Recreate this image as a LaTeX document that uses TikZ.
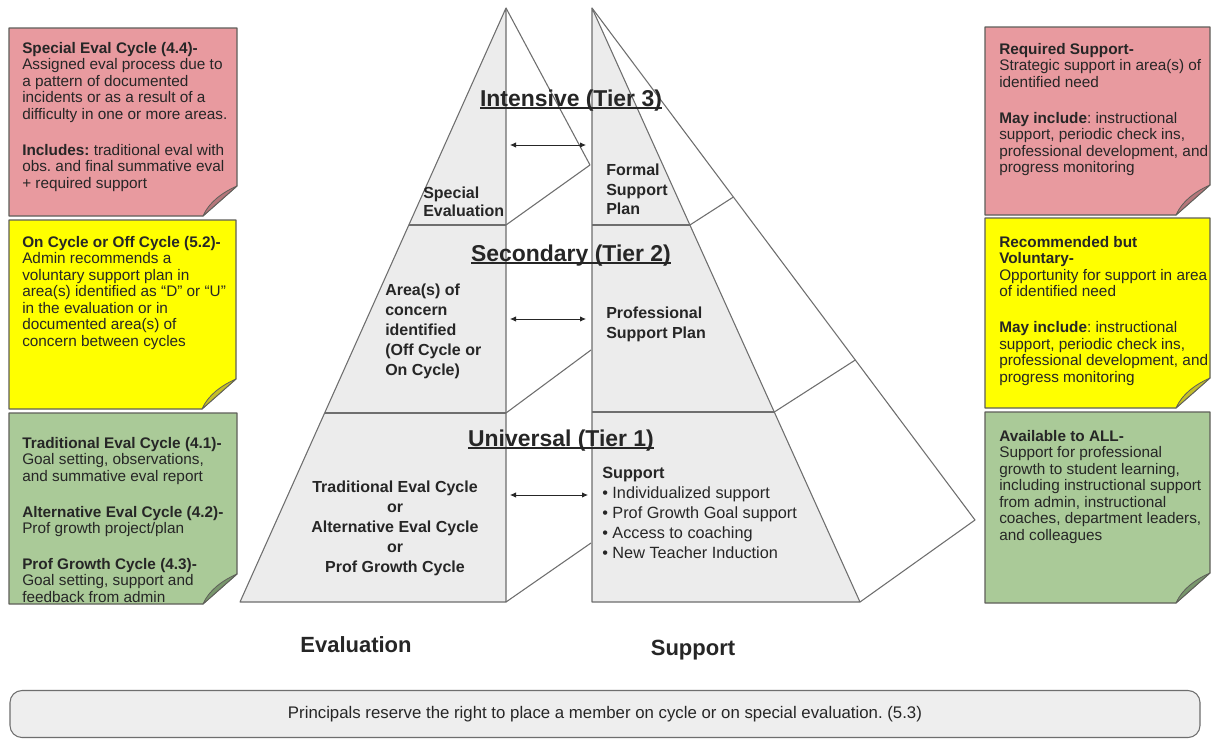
\documentclass[tikz,border=0pt]{standalone}
\usepackage{fontspec}
\setmainfont{Liberation Sans}
\frenchspacing
\usetikzlibrary{arrows.meta}
\definecolor{linegray}{RGB}{110,110,110}
\definecolor{pyrfill}{RGB}{236,236,236}
\definecolor{notered}{RGB}{232,154,159}
\definecolor{foldred}{RGB}{180,118,122}
\definecolor{noteyellow}{RGB}{255,255,0}
\definecolor{foldyellow}{RGB}{196,190,40}
\definecolor{notegreen}{RGB}{170,202,152}
\definecolor{foldgreen}{RGB}{120,150,108}
\definecolor{noteborder}{RGB}{95,95,90}
\definecolor{boxfill}{RGB}{238,238,238}
\newcommand{\myul}[1]{\setbox0\hbox{#1}\rlap{\rule[-2.2pt]{\wd0}{1.1pt}}\box0}
\tikzset{
  pyrline/.style={draw=linegray, line width=0.8pt, line join=round},
  notetext/.style={font=\fontsize{11.5}{12.35}\selectfont\frenchspacing, align=left, anchor=north west, inner sep=0pt, text=black!85},
  pyrtext/.style={font=\bfseries\fontsize{12}{15}\selectfont, align=left, anchor=north west, inner sep=0pt, text=black!85},
  tierlabel/.style={font=\bfseries\fontsize{17.2}{20}\selectfont, anchor=base, inner sep=0pt, text=black!85},
  biglabel/.style={font=\bfseries\fontsize{16.5}{19}\selectfont, inner sep=0pt, text=black!85},
  dblarrow/.style={{Latex[length=4.5pt,width=4pt]}-{Latex[length=4.5pt,width=4pt]}, line width=0.6pt, draw=black!85},
  notebody/.style={draw=noteborder, line width=0.8pt, line join=round},
}
\newcommand{\stickynote}[5]{% x1 y1 x2 y2 colour
  \fill[#5] (#1,#2) -- (#3,#2) -- (#3,#4-30) -- (#3-34,#4) -- (#1,#4) -- cycle;
  \draw[notebody] (#1,#2) -- (#3,#2) -- (#3,#4-30) -- (#3-34,#4) -- (#1,#4) -- cycle;
}
\newcommand{\notefold}[3]{% x2 y2 colour
  \filldraw[fill=#3, draw=noteborder, line width=0.6pt, line join=round] (#1-34,#2) .. controls (#1-28,#2-14) and (#1-14,#2-24) .. (#1,#2-30) -- cycle;
}
\begin{document}
\begin{tikzpicture}[x=0.75pt,y=-0.75pt]
\useasboundingbox (0,0) rectangle (1211,743);
\fill[white] (0,0) rectangle (1211,743);

% ---------- Left pyramid (Evaluation) ----------
\coordinate (LA) at (506,8);
\coordinate (LB) at (240,602);
\coordinate (LC) at (506,602);
\fill[pyrfill] (LA) -- (LB) -- (LC) -- cycle;
\draw[pyrline] (LA) -- (LB) -- (LC) -- cycle;
\draw[pyrline] (408.8,225) -- (506,225);
\draw[pyrline] (324.6,413) -- (506,413);
% side face of left pyramid
\draw[pyrline] (LA) -- (590,165) -- (506,225);
\draw[pyrline] (506,413) -- (591,350);
\draw[pyrline] (506,602) -- (591,543);

% ---------- Right pyramid (Support) ----------
\coordinate (RA) at (592,8);
\coordinate (RB) at (860,602);
\coordinate (RC) at (592,602);
\coordinate (RE) at (975,520);
\fill[pyrfill] (RA) -- (RB) -- (RC) -- cycle;
\draw[pyrline] (RA) -- (RB) -- (RC) -- cycle;
\draw[pyrline] (592,225) -- (689.9,225);
\draw[pyrline] (592,412) -- (774.3,412);
% side face of right pyramid
\draw[pyrline] (RA) -- (RE) -- (RB);
\draw[pyrline] (689.9,225) -- (733.4,197);
\draw[pyrline] (774.3,412) -- (855.3,360);

% ---------- Tier labels ----------
\node[tierlabel] (t3) at (571,106) {\myul{Intensive (Tier 3)}};
\node[tierlabel] (t2) at (571,261) {\myul{Secondary (Tier 2)}};
\node[tierlabel] (t1) at (561,446) {\myul{Universal (Tier 1)}};

% ---------- Pyramid texts ----------
\node[pyrtext, font=\bfseries\fontsize{12}{13.5}\selectfont] (special) at (423,187) {Special\\Evaluation};
\node[pyrtext] (area) at (385,284) {Area(s) of\\concern\\identified\\(Off Cycle or\\On Cycle)};
\node[pyrtext, align=center, anchor=north] (trad) at (395,481) {Traditional Eval Cycle\\or\\Alternative Eval Cycle\\or\\Prof Growth Cycle};
\node[pyrtext, font=\bfseries\fontsize{12}{14.6}\selectfont] (formal) at (606,164) {Formal\\Support\\Plan};
\node[pyrtext] (prof) at (606,307) {Professional\\Support Plan};
\node[pyrtext, font=\fontsize{12.2}{15}\selectfont] (supp) at (602,467) {\textbf{Support}\\\textbullet\ Individualized support\\\textbullet\ Prof Growth Goal support\\\textbullet\ Access to coaching\\\textbullet\ New Teacher Induction};

% ---------- Arrows ----------
\coordinate (a3l) at (510,145); \coordinate (a3r) at (586,145);
\coordinate (a2l) at (510,319); \coordinate (a2r) at (586,319);
\coordinate (a1l) at (510,495); \coordinate (a1r) at (588,495);
\draw[dblarrow] (a3l) -- (a3r);
\draw[dblarrow] (a2l) -- (a2r);
\draw[dblarrow] (a1l) -- (a1r);

% ---------- Left notes ----------
\stickynote{9}{28}{237}{216}{notered}
\notefold{237}{216}{foldred}
\stickynote{9}{220}{236}{409}{noteyellow}
\notefold{236}{409}{foldyellow}
\stickynote{9}{413}{237}{604}{notegreen}
\notefold{237}{604}{foldgreen}

\node[notetext] (nl1) at (22,42) {\textbf{Special Eval Cycle (4.4)-}\\Assigned eval process due to\\a pattern of documented\\incidents or as a result of a\\difficulty in one or more areas.\\[14.7pt]\textbf{Includes:} traditional eval with\\obs. and final summative eval\\+ required support};
\node[notetext] (nl2) at (22,236) {\textbf{On Cycle or Off Cycle (5.2)-}\\Admin recommends a\\voluntary support plan in\\area(s) identified as “D” or “U”\\in the evaluation or in\\documented area(s) of\\concern between cycles};
\node[notetext] (nl3) at (22,437) {\textbf{Traditional Eval Cycle (4.1)-}\\Goal setting, observations,\\and summative eval report\\[14.5pt]\textbf{Alternative Eval Cycle (4.2)-}\\Prof growth project/plan\\[14.5pt]\textbf{Prof Growth Cycle (4.3)-}\\Goal setting, support and\\feedback from admin};

% ---------- Right notes ----------
\stickynote{985}{27}{1210}{215}{notered}
\notefold{1210}{215}{foldred}
\stickynote{985}{218}{1210}{408}{noteyellow}
\notefold{1210}{408}{foldyellow}
\stickynote{985}{412}{1210}{603}{notegreen}
\notefold{1210}{603}{foldgreen}

\node[notetext] (nr1) at (999,43) {\textbf{Required Support-}\\Strategic support in area(s) of\\identified need\\[14.7pt]\textbf{May include}: instructional\\support, periodic check ins,\\professional development, and\\progress monitoring};
\node[notetext] (nr2) at (999,236) {\textbf{Recommended but}\\\textbf{Voluntary-}\\Opportunity for support in area\\of identified need\\[14.7pt]\textbf{May include}: instructional\\support, periodic check ins,\\professional development, and\\progress monitoring};
\node[notetext] (nr3) at (999,430) {\textbf{Available to ALL-}\\Support for professional\\growth to student learning,\\including instructional support\\from admin, instructional\\coaches, department leaders,\\and colleagues};

% ---------- Bottom labels ----------
\node[biglabel] (evl) at (356,645) {Evaluation};
\node[biglabel] (spl) at (693,650) {Support};

\node[draw=linegray, fill=boxfill, line width=0.8pt, rounded corners=9pt, minimum width=1190*0.75pt, minimum height=47*0.75pt, font=\fontsize{12.6}{14}\selectfont\frenchspacing, text=black!85] (principals) at (605,714) {Principals reserve the right to place a member on cycle or on special evaluation. (5.3)};
\end{tikzpicture}
\end{document}
